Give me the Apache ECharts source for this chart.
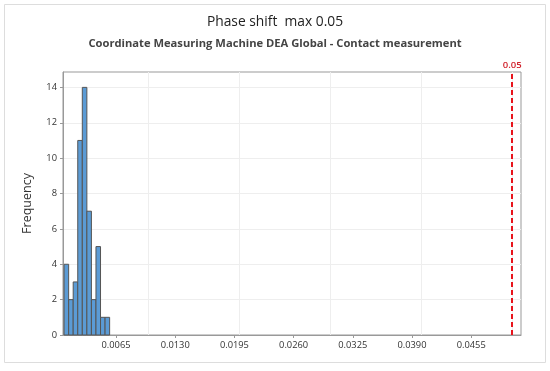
<!DOCTYPE html>
<html><head><meta charset="utf-8">
<script src="https://cdn.jsdelivr.net/npm/echarts@6/dist/echarts.min.js"></script>
<style>html,body{margin:0;padding:0;background:#fff}#c{width:550px;height:371px}</style>
</head><body><div id="c"></div>
<script>
const binStarts = [0.00080, 0.00130, 0.00180, 0.00230, 0.00280, 0.00330, 0.00380, 0.00430, 0.00480, 0.00530];
const binWidth = 0.0005;
const counts = [4, 2, 3, 11, 14, 7, 2, 5, 1, 1];
const xTicks = [0.0065, 0.0130, 0.0195, 0.0260, 0.0325, 0.0390, 0.0455];
const yTicks = [0, 2, 4, 6, 8, 10, 12, 14];
const limitValue = 0.05;

const chart = echarts.init(document.getElementById('c'));
const font = 'Open Sans';
chart.setOption({
  animation: false,
  title: [
    {text: 'Phase shift  max 0.05', left: 'center', top: 10, textStyle: {fontFamily: font, fontSize: 13.8, fontWeight: 'normal', color: '#222'}},
    {text: 'Coordinate Measuring Machine DEA Global - Contact measurement', left: 'center', top: 33, textStyle: {fontFamily: font, fontSize: 11.2, fontWeight: 'bold', color: '#444'}}
  ],
  graphic: [{type: 'rect', shape: {x: 4.5, y: 4.5, width: 541, height: 358}, style: {fill: 'none', stroke: '#ddd', lineWidth: 1}, silent: true}],
  grid: {left: 63, right: 29, top: 72, bottom: 36, show: true, borderColor: '#999', borderWidth: 1},
  xAxis: {
    type: 'value', min: 0.00068, max: 0.05097,
    axisLine: {show: true, lineStyle: {color: '#999'}},
    axisTick: {show: true, customValues: xTicks, length: 3, lineStyle: {color: '#999'}},
    axisLabel: {customValues: xTicks, color: '#333', fontFamily: font, fontSize: 9.3, margin: 6, formatter: v => v.toFixed(4)},
    splitLine: {show: false}
  },
  yAxis: {
    type: 'value', min: 0, max: 14.87,
    axisLine: {show: true, lineStyle: {color: '#999'}},
    axisTick: {show: true, customValues: yTicks, length: 3, lineStyle: {color: '#999'}},
    axisLabel: {customValues: yTicks, color: '#333', fontFamily: font, fontSize: 9.3, margin: 6},
    splitLine: {show: false},
    name: 'Frequency', nameLocation: 'middle', nameGap: 29,
    nameTextStyle: {fontFamily: font, fontSize: 12.5, color: '#333'}
  },
  series: [
    {
      type: 'line', data: [], silent: true, z: 0,
      markLine: {
        z: 0, symbol: 'none', silent: true, label: {show: false},
        lineStyle: {color: '#eee', type: 'solid', width: 1},
        data: xTicks.map(v => ({xAxis: v})).concat(yTicks.slice(1).map(v => ({yAxis: v})))
      }
    },
    {
      type: 'custom', z: 3,
      data: binStarts.map((s, i) => [s, s + binWidth, counts[i]]),
      renderItem: function (params, api) {
        const p0 = api.coord([api.value(0), 0]);
        const p1 = api.coord([api.value(1), api.value(2)]);
        return {type: 'rect', shape: {x: p0[0], y: p1[1], width: p1[0] - p0[0], height: p0[1] - p1[1]},
          style: {fill: '#5b9bd5', stroke: '#555', lineWidth: 1}};
      },
      encode: {x: [0, 1], y: 2}
    },
    {
      type: 'line', data: [], silent: true, z: 4,
      markLine: {
        z: 6, symbol: 'none', silent: true,
        lineStyle: {color: '#e8141c', type: [5, 3], width: 2},
        label: {show: true, position: 'end', formatter: '0.05', color: '#d0202a', fontFamily: font, fontSize: 9.5, fontWeight: 600, distance: 2},
        data: [{xAxis: limitValue}]
      }
    }
  ]
});
</script></body></html>
